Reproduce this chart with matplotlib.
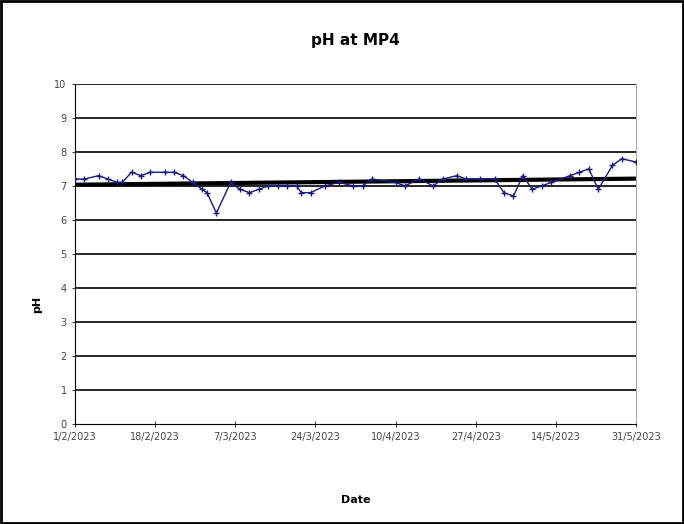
import numpy as np
import pandas as pd
import matplotlib.pyplot as plt
import matplotlib.dates as mdates
from matplotlib.patches import Rectangle

# pH readings at MP4
dates = ["1/2", "3/2", "6/2", "8/2", "10/2", "11/2", "13/2", "15/2", "17/2", "20/2",
         "22/2", "24/2", "26/2", "28/2", "1/3", "3/3", "6/3", "8/3", "10/3", "12/3",
         "14/3", "16/3", "18/3", "20/3", "21/3", "23/3", "26/3", "29/3", "1/4", "3/4",
         "5/4", "10/4", "12/4", "15/4", "18/4", "20/4", "23/4", "25/4", "28/4", "1/5",
         "3/5", "5/5", "7/5", "9/5", "11/5", "13/5", "17/5", "19/5", "21/5", "23/5",
         "26/5", "28/5", "31/5"]
ph = [7.2, 7.2, 7.3, 7.2, 7.1, 7.1, 7.4, 7.3, 7.4, 7.4,
      7.4, 7.3, 7.1, 6.9, 6.8, 6.2, 7.1, 6.9, 6.8, 6.9,
      7.0, 7.0, 7.0, 7.0, 6.8, 6.8, 7.0, 7.1, 7.0, 7.0,
      7.2, 7.1, 7.0, 7.2, 7.0, 7.2, 7.3, 7.2, 7.2, 7.2,
      6.8, 6.7, 7.3, 6.9, 7.0, 7.1, 7.3, 7.4, 7.5, 6.9,
      7.6, 7.8, 7.7]
tick_labels = ["1/2/2023", "18/2/2023", "7/3/2023", "24/3/2023",
               "10/4/2023", "27/4/2023", "14/5/2023", "31/5/2023"]

x = pd.to_datetime([d + "/2023" for d in dates], format="%d/%m/%Y")
ticks = pd.to_datetime(tick_labels, format="%d/%m/%Y")

fig = plt.figure(figsize=(6.84, 5.24), dpi=100)
fig.patches.append(Rectangle((0.002, 0.002), 0.996, 0.996, transform=fig.transFigure,
                             fill=False, edgecolor="black", linewidth=2))
ax = fig.add_axes([0.1096, 0.191, 0.8202, 0.649])

for v in range(1, 11):
    ax.axhline(v, color="black", linewidth=1.2, zorder=1)

ax.plot(x, ph, color="#1a1a80", linewidth=1, marker="+", markersize=4,
        markeredgewidth=1, zorder=3)

# linear trendline
xn = mdates.date2num(x)
k, b = np.polyfit(xn, ph, 1)
ax.plot(x, k * xn + b, color="black", linewidth=3, zorder=2)

ax.set_xlim(ticks[0], ticks[-1])
ax.set_ylim(0, 10)
ax.set_xticks(ticks)
ax.set_xticklabels(tick_labels)
ax.set_yticks(range(0, 11))
ax.tick_params(axis="both", labelsize=7, colors="#444444", direction="inout", length=5)
ax.spines["top"].set_visible(False)
ax.spines["right"].set_color("#aaaaaa")

ax.set_title("pH at MP4", fontsize=11, fontweight="bold", pad=28)
ax.set_xlabel("Date", fontsize=8, fontweight="bold")
ax.set_ylabel("pH", fontsize=8, fontweight="bold")
ax.xaxis.set_label_coords(0.5, -0.209)
ax.yaxis.set_label_coords(-0.058, 0.35)

plt.savefig("out.png", dpi=100)
